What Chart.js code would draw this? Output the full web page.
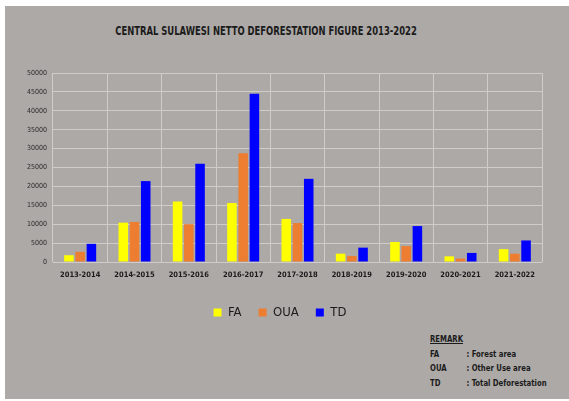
<!DOCTYPE html>
<html>
<head>
<meta charset="utf-8">
<script src="https://cdn.jsdelivr.net/npm/chart.js@4.4.1/dist/chart.umd.min.js"></script>
<style>
  html, body { margin:0; padding:0; background:#ffffff; }
  #panel { position:absolute; left:5px; top:6px; width:564px; height:393px; background:#ADA9A7; overflow:hidden; }
  #wrap { position:absolute; left:0; top:0; width:564px; height:323px; }
  .nar { font-family:"Liberation Sans Narrow","DejaVu Sans Condensed","Arial Narrow",sans-serif; }
  #title { position:absolute; left:0; width:522px; top:17px; text-align:center; font-weight:bold; font-size:12.5px; color:#1b1b1b; transform:scaleX(0.75); transform-origin:261px 0; }
  #remark { position:absolute; left:425px; top:326px; font-weight:bold; font-size:9.5px; color:#1b1b1b; line-height:14.5px; transform:scaleX(0.81); transform-origin:0 0; white-space:nowrap; }
  #remark .h { text-decoration:underline; }
  #remark span.k { display:inline-block; width:45px; }
</style>
</head>
<body>
<div id="panel">
  <div id="title" class="nar">CENTRAL SULAWESI NETTO DEFORESTATION FIGURE 2013-2022</div>
  <div id="wrap"><canvas id="c"></canvas></div>
  <div id="remark" class="nar">
    <div class="h">REMARK</div>
    <div><span class="k">FA</span>: Forest area</div>
    <div><span class="k">OUA</span>: Other Use area</div>
    <div><span class="k">TD</span>: Total Deforestation</div>
  </div>
</div>
<script>
const categories = ["2013-2014","2014-2015","2015-2016","2016-2017","2017-2018","2018-2019","2019-2020","2020-2021","2021-2022"];
const seriesNames = ["FA","OUA","TD"];
const faValues  = [1800, 10400, 16000, 15600, 11400, 2200, 5300, 1500, 3400];
const ouaValues = [2700, 10600, 10000, 28800, 10300, 1600, 4200, 900, 2200];
const tdValues  = [4800, 21400, 26000, 44500, 22000, 3800, 9500, 2400, 5700];
const yTicks = [0,5000,10000,15000,20000,25000,30000,35000,40000,45000,50000];

const narrow = '"Liberation Sans Narrow","DejaVu Sans Condensed","Arial Narrow",sans-serif';
const colors = ["#FFFF00", "#ED7D31", "#0000FF"];
const values = [faValues, ouaValues, tdValues];

new Chart(document.getElementById('c'), {
  type: 'bar',
  data: {
    labels: categories,
    datasets: seriesNames.map((n, i) => ({
      label: n,
      data: values[i],
      backgroundColor: colors[i],
      borderWidth: 0,
      barPercentage: 0.85,
      categoryPercentage: 0.62
    }))
  },
  options: {
    responsive: true,
    maintainAspectRatio: false,
    animation: false,
    layout: { padding: { left: 13, right: 27, top: 67, bottom: 0 } },
    plugins: {
      title: { display: false },
      tooltip: { enabled: false },
      legend: {
        position: 'bottom',
        labels: {
          boxWidth: 8, boxHeight: 8, padding: 17,
          color: '#1b1b1b',
          font: { family: narrow, size: 13 }
        }
      }
    },
    scales: {
      x: {
        grid: { color: '#CFCCCA', lineWidth: 1, drawTicks: false, offset: true },
        border: { display: false },
        ticks: { color: '#1b1b1b', padding: 9, maxRotation: 0, font: { family: narrow, size: 7.5, weight: 'bold' } }
      },
      y: {
        min: 0, max: 50000,
        afterBuildTicks: (axis) => { axis.ticks = yTicks.map(v => ({ value: v })); },
        afterFit: (axis) => { axis.width = 35; },
        grid: { color: '#CFCCCA', lineWidth: 1, drawTicks: false },
        border: { display: false },
        ticks: { color: '#2a2a2a', padding: 6, font: { family: narrow, size: 7 }, callback: (v) => String(v) }
      }
    }
  }
});
</script>
</body>
</html>
